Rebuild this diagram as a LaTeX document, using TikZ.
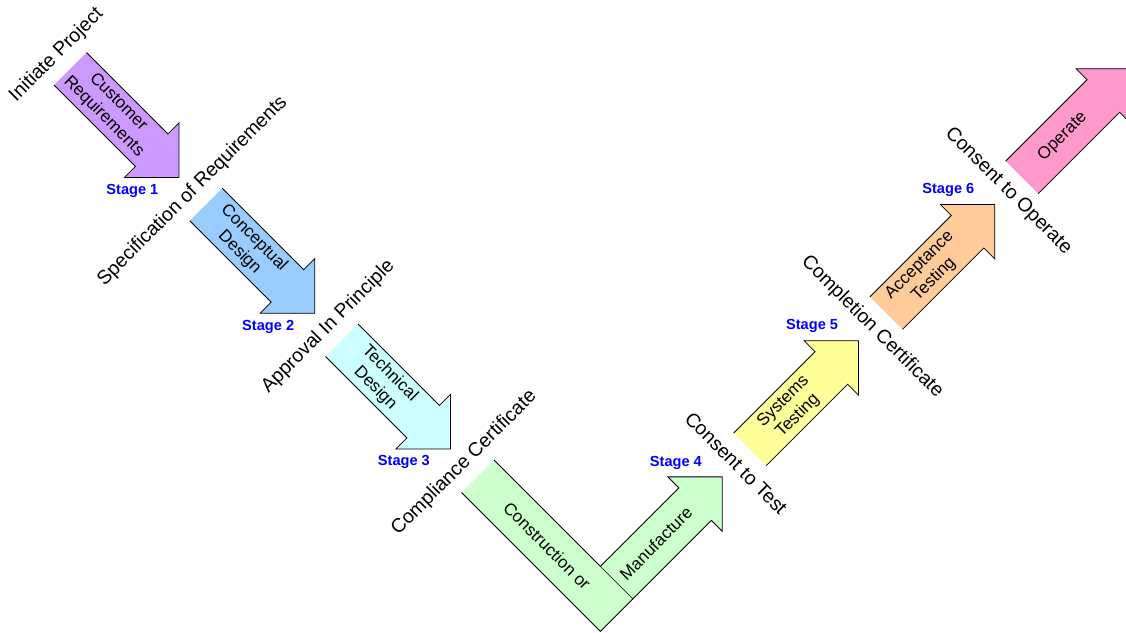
\documentclass[tikz,border=0pt]{standalone}
\usepackage{fontspec}
\setmainfont{Liberation Sans}
\definecolor{cpurple}{RGB}{204,153,255}
\definecolor{cblue}{RGB}{153,204,255}
\definecolor{ccyan}{RGB}{204,255,255}
\definecolor{cgreen}{RGB}{204,255,204}
\definecolor{cyellow}{RGB}{255,255,153}
\definecolor{cpeach}{RGB}{255,204,153}
\definecolor{cpink}{RGB}{255,153,204}
\definecolor{stageblue}{RGB}{0,0,255}
\newcommand\flowarrow[5]{%
  \begin{scope}[shift={(#1,#2)},rotate=#3]
    \fill[#4] (0,-23) -- ({#5-38.5},-23) -- ({#5-38.5},-38.5) -- (#5,0) -- ({#5-38.5},38.5) -- ({#5-38.5},23) -- (0,23) -- cycle;
    \draw[shp] (0,-23) -- ({#5-38.5},-23) -- ({#5-38.5},-38.5) -- (#5,0) -- ({#5-38.5},38.5) -- ({#5-38.5},23) -- (0,23);
  \end{scope}}
\begin{document}
\begin{tikzpicture}[x=1pt,y=-1pt,
  shp/.style={line width=0.8pt, draw=black, line join=miter},
  biglabel/.style={font=\fontsize{19.5}{23}\selectfont, inner sep=0pt},
  arrtext/.style={font=\fontsize{17}{20.5}\selectfont, align=center, inner sep=0pt},
  stagelbl/.style={font=\fontsize{14.6}{16}\selectfont\bfseries, text=stageblue, inner sep=0pt}]
\clip (0,0) rectangle (1126,632);
\fill[white] (0,0) rectangle (1126,632);

% descending arrows
\flowarrow{70.25}{68.75}{-45}{cpurple}{153.7}
\flowarrow{206}{204.5}{-45}{cblue}{153.7}
\flowarrow{341.75}{340.25}{-45}{ccyan}{153.7}

% V shape (construction or manufacture)
\begin{scope}[shift={(477.75,476.25)},rotate=-45]
  \fill[cgreen] (0,-23) -- (150.4,-23) -- (150.4,-134) -- (134.9,-134) -- (173.4,-172.5) -- (211.9,-134) -- (196.4,-134) -- (196.4,23) -- (0,23) -- cycle;
  \draw[shp] (0,-23) -- (150.4,-23) -- (150.4,-134) -- (134.9,-134) -- (173.4,-172.5) -- (211.9,-134) -- (196.4,-134) -- (196.4,23) -- (0,23);
  \draw[line width=0.5pt] (150.4,-23) -- (196.4,-23);
  \node[arrtext, rotate=-45] (tcons) at (98.2,0) {Construction or};
  \node[arrtext, rotate=45] (tmanu) at (173.4,-78.5) {Manufacture};
\end{scope}

% rising arrows
\flowarrow{749.9}{449.4}{45}{cyellow}{153.7}
\flowarrow{886.15}{313.15}{45}{cpeach}{153.7}
\flowarrow{1021.9}{177.4}{45}{cpink}{153.7}

% arrow texts
\node[arrtext, rotate=-45] (t1) at (110.98,109.48) {Customer\\Requirements};
\node[arrtext, rotate=-45] (t2) at (246.73,245.23) {Conceptual\\Design};
\node[arrtext, rotate=-45] (t3) at (382.48,380.98) {Technical\\Design};
\node[arrtext, rotate=45] (t5) at (790.63,408.67) {Systems\\Testing};
\node[arrtext, rotate=45] (t6) at (926.88,272.42) {Acceptance\\Testing};
\node[arrtext, rotate=45] (t7) at (1062.63,136.67) {Operate};

% milestone labels
\node[biglabel, rotate=45] (m0) at (56.6,55.1) {Initiate Project};
\node[biglabel, rotate=45] (m1) at (192.6,191.1) {Specification of Requirements};
\node[biglabel, rotate=45] (m2) at (328.25,326.75) {Approval In Principle};
\node[biglabel, rotate=45] (m3) at (464.25,462.75) {Compliance Certificate};
\node[biglabel, rotate=-45] (m4) at (736.15,463.15) {Consent to Test};
\node[biglabel, rotate=-45] (m5) at (872.25,327.05) {Completion Certificate};
\node[biglabel, rotate=-45] (m6) at (1008.15,191.15) {Consent to Operate};

% stage labels
\node[stagelbl] (s1) at (132.4,190.7) {Stage 1};
\node[stagelbl] (s2) at (268.2,326.5) {Stage 2};
\node[stagelbl] (s3) at (403.9,462.3) {Stage 3};
\node[stagelbl] (s4) at (675.9,462.7) {Stage 4};
\node[stagelbl] (s5) at (812.1,326.4) {Stage 5};
\node[stagelbl] (s6) at (948.35,190.15) {Stage 6};
\end{tikzpicture}
\end{document}
